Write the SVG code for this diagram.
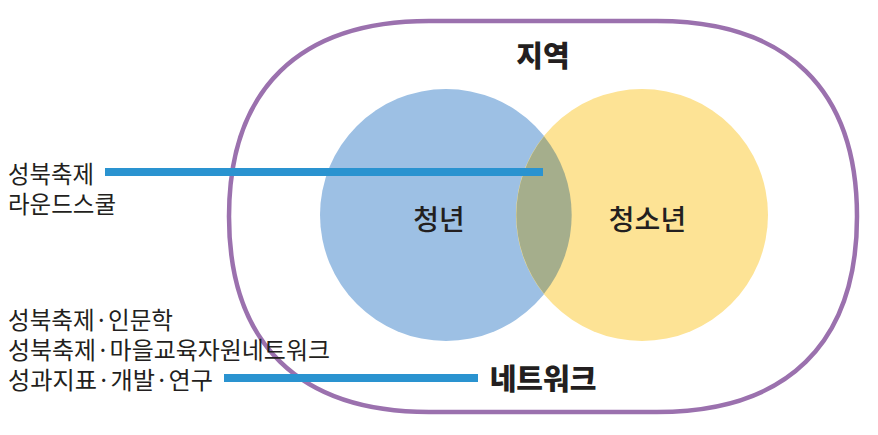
<svg xmlns="http://www.w3.org/2000/svg" width="878" height="435" viewBox="0 0 878 435">
<style>
.lbl{font-family:"Noto Sans CJK KR","Noto Sans",sans-serif;fill:#231f20}
.side{font-size:24px;font-weight:400}
.mid{font-size:28px;font-weight:500;text-anchor:middle}
.big{font-size:29px;font-weight:900;text-anchor:middle}
.conn{stroke:#2a93d0;stroke-width:8;fill:none}
</style>
<rect width="878" height="435" fill="#ffffff"/>
<g id="region">
<path d="M429,21 H657 C787,21 857,89.4 857,216.5 C857,343.6 787,412 657,412 H429 C299,412 229,343.6 229,216.5 C229,89.4 299,21 429,21 Z" fill="none" stroke="#9b71ae" stroke-width="4.5"/>
<text class="lbl big" x="543" y="67">지역</text>
</g>
<g id="youth">
<circle cx="446" cy="215" r="126" fill="#9dc0e4"/>
</g>
<g id="teen">
<circle cx="642" cy="215" r="126" fill="#fde395"/>
</g>
<g id="overlap">
<path d="M544,136.2 A126,126 0 0 1 544,293.8 A126,126 0 0 1 544,136.2 Z" fill="#a5ae8c"/>
</g>
<g id="labels-circles">
<text class="lbl mid" x="439" y="230">청년</text>
<text class="lbl mid" x="647.5" y="230">청소년</text>
</g>
<g id="network">
<text class="lbl big" x="543" y="390">네트워크</text>
</g>
<g id="connectors">
<line class="conn" x1="105" y1="172" x2="543" y2="172"/>
<line class="conn" x1="224" y1="378" x2="478" y2="378"/>
</g>
<g id="left-top">
<text class="lbl side" x="8" y="183" textLength="86" lengthAdjust="spacingAndGlyphs">성북축제</text>
<text class="lbl side" x="8" y="213" textLength="108" lengthAdjust="spacingAndGlyphs">라운드스쿨</text>
</g>
<g id="left-bottom">
<text class="lbl side" x="8" y="329" textLength="165" lengthAdjust="spacingAndGlyphs">성북축제·인문학</text>
<text class="lbl side" x="8" y="359" textLength="322" lengthAdjust="spacingAndGlyphs">성북축제·마을교육자원네트워크</text>
<text class="lbl side" x="8" y="389" textLength="205" lengthAdjust="spacingAndGlyphs">성과지표·개발·연구</text>
</g>
</svg>
